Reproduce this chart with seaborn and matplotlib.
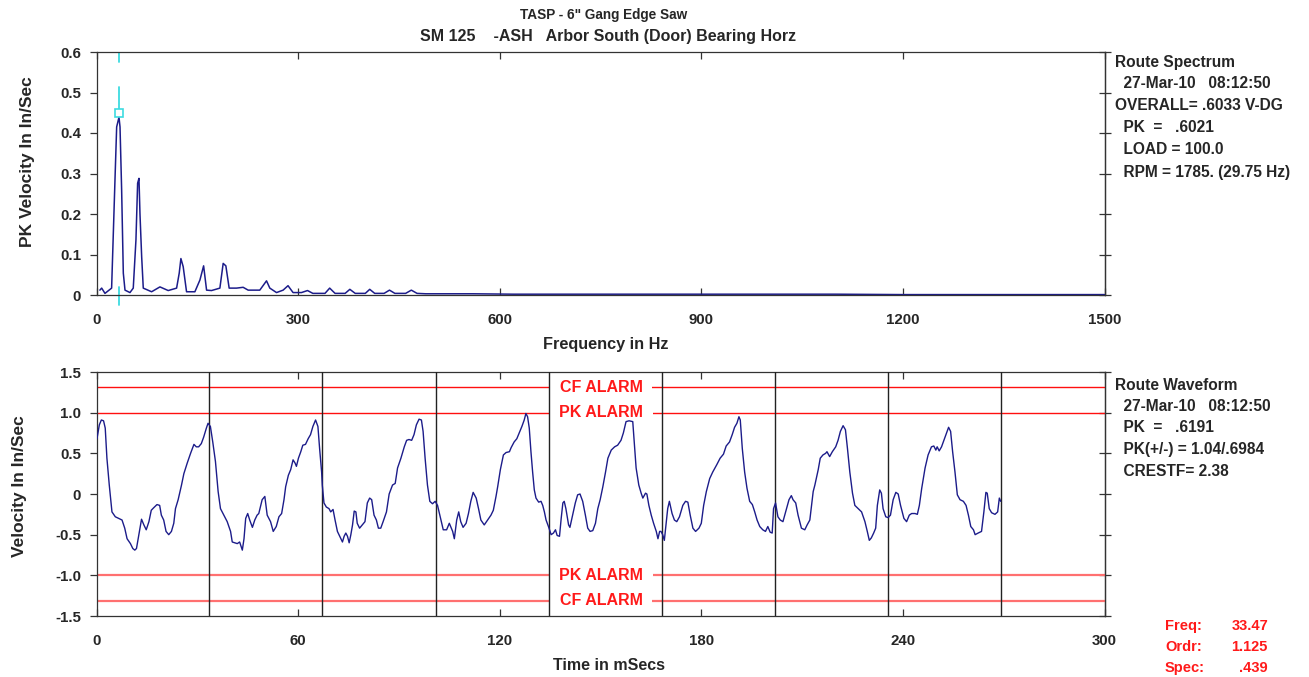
import numpy as np
import pandas as pd
import matplotlib
matplotlib.use("Agg")
import matplotlib.pyplot as plt
import seaborn as sns

# ---------------- data ----------------
spec_freq = [5, 7.7, 12.6, 22.5, 27.5, 30, 33.47, 35, 37.4, 39.9, 42.4, 49.8, 54.7, 58.7, 61.2, 63.2,
             64.7, 67.2, 69.6, 82, 94.4, 106.7, 119.2, 123.1, 125.6, 129, 134, 146.4, 153.9, 159.4,
             163.8, 171.2, 183.6, 188.5, 192.5, 197.4, 208.4, 218.2, 225.7, 243, 253, 257.9, 267.9,
             277.7, 285, 292.5, 305, 314, 322, 340, 347, 355, 370, 377, 385, 400, 406.6, 414, 428,
             436, 444, 460, 468.5, 477, 490, 510, 560, 620, 700, 800, 900, 1000, 1100, 1200, 1300,
             1400, 1500]
spec_amp = [0.012, 0.017, 0.004, 0.017, 0.284, 0.415, 0.439, 0.415, 0.26, 0.054, 0.012, 0.006, 0.017,
            0.136, 0.276, 0.288, 0.2, 0.095, 0.017, 0.008, 0.02, 0.011, 0.017, 0.054, 0.09, 0.07,
            0.008, 0.008, 0.037, 0.072, 0.012, 0.011, 0.017, 0.078, 0.072, 0.017, 0.017, 0.019,
            0.012, 0.012, 0.035, 0.017, 0.006, 0.012, 0.023, 0.006, 0.006, 0.011, 0.004, 0.004,
            0.017, 0.004, 0.004, 0.014, 0.004, 0.004, 0.014, 0.004, 0.004, 0.012, 0.004, 0.004,
            0.012, 0.004, 0.003, 0.003, 0.003, 0.002, 0.002, 0.002, 0.002, 0.002, 0.002, 0.001,
            0.001, 0.001, 0.001]

wave_t = [0.15, 0.84, 1.44, 2.1, 2.6, 3.1, 3.8, 4.6, 5.6, 6.6, 7.6, 8.4, 9.1, 10.1, 10.8, 11.4, 11.9,
          12.6, 13.4, 14.1, 14.8, 15.6, 16.3, 17.0, 18.0, 18.8, 19.3, 20.0, 20.7, 21.5, 22.3, 23.0,
          23.5, 24.3, 25.3, 26.0, 27.0, 28.0, 29.0, 29.7, 30.4, 31.2, 31.9, 32.7, 33.2, 33.9, 34.6,
          35.4, 36.2, 36.9, 37.9, 38.9, 39.9, 40.4, 41.2, 41.9, 42.6, 43.4, 43.9, 44.4, 45.0, 45.6,
          46.4, 47.1, 47.8, 48.3, 49.3, 50.1, 50.8, 51.8, 52.6,
          53.5, 54.3, 55.1, 55.8, 56.3, 57.1, 57.8, 58.5, 59.1, 59.5, 60.1, 60.8, 61.4, 62.2, 63.0,
          63.7, 64.4, 65.2, 65.9, 66.4, 67.0, 67.2, 67.7, 68.4, 69.2, 69.7, 70.4, 71.0, 71.7, 72.4,
          73.2, 73.7, 74.2, 74.7, 75.2, 75.7, 76.2, 76.7, 77.2, 77.6, 78.3, 79.1, 79.9, 80.6, 81.3,
          81.9, 82.6, 83.3, 83.9, 84.6, 85.3, 86.3, 87.1, 88.1, 88.9, 89.6, 90.6, 91.6, 92.3, 93.0,
          93.8, 94.5, 95.2, 96.0, 96.7, 97.2, 97.8, 98.5, 99.2, 100.0, 100.8, 101.5, 102.5, 103.2,
          104.2, 105.0, 106.0, 106.5,
          107.2, 107.8, 108.4, 109.1, 110.0, 110.7, 111.4, 112.1, 113.0, 113.7, 114.4, 115.4, 116.4,
          117.4, 118.1, 118.9, 119.4, 120.2, 121.1, 121.9, 122.9, 123.4, 124.3, 125.1, 125.8, 126.6,
          127.3, 127.8, 128.3, 128.8, 129.3, 129.8, 130.3, 130.8, 131.6, 132.3, 132.8, 133.3, 133.8,
          134.6, 135.3, 136.0, 136.6, 137.1, 137.8, 138.3, 138.8, 139.2, 139.7, 140.5, 140.9, 141.7,
          142.5, 143.2, 143.9, 144.7, 145.5, 146.2, 146.9, 147.7, 148.5, 149.2, 149.9, 150.7, 151.5,
          152.2, 153.2, 154.2, 155.1, 156.1, 156.8, 157.6, 158.5, 159.6,
          160.1, 160.6, 161.4, 162.1, 162.6, 163.4, 163.8, 164.4, 165.1, 165.8, 166.6, 167.1, 167.6,
          168.0, 168.5, 169.0, 169.5, 170.0, 170.5, 171.3, 172.0, 172.7, 173.5, 174.5, 175.3, 176.0,
          176.7, 177.5, 178.3, 179.3, 180.0, 180.7, 181.5, 182.5, 183.4, 184.6, 185.6, 186.6, 187.4,
          188.4, 189.2, 189.9, 190.6, 191.2, 191.6, 192.2, 192.9, 193.6, 194.4, 195.2, 195.9, 196.6,
          197.4, 198.3, 199.1, 199.8, 200.5, 201.1, 201.5, 202.1, 202.8, 203.5, 204.3, 205.1, 206.1,
          206.8, 207.3, 208.1, 208.8, 209.8, 210.8, 211.5, 212.3, 212.8, 213.3,
          213.8, 214.8, 215.4, 216.2, 217.0, 217.4, 218.2, 219.0, 220.0, 220.7, 221.4, 222.2, 222.9,
          223.5, 224.2, 225.0, 225.7, 226.7, 227.7, 228.7, 229.4, 230.0, 230.6, 231.3, 231.9, 232.4,
          233.1, 233.6, 234.1, 234.9, 235.6, 236.3, 237.1, 237.9, 238.6, 239.3, 240.3, 241.1, 241.9,
          242.6, 243.6, 244.3, 244.9, 245.6, 246.6, 247.5, 248.5, 249.2, 249.8, 250.2, 250.8, 251.5,
          252.2, 253.0, 253.6, 254.2, 254.8, 255.5, 256.2, 257.0, 258.0, 258.8, 259.5, 260.2, 261.0,
          261.5, 262.4, 263.4, 264.1, 264.7, 265.1, 265.7, 266.4, 267.4, 268.2, 268.7, 269.1]
wave_v = [0.68, 0.85, 0.91, 0.90, 0.81, 0.44, 0.11, -0.22, -0.28, -0.30, -0.32, -0.42, -0.55, -0.61,
          -0.67, -0.69, -0.67, -0.50, -0.31, -0.38, -0.44, -0.34, -0.20, -0.17, -0.13, -0.14, -0.26,
          -0.32, -0.46, -0.50, -0.46, -0.36, -0.18, -0.07, 0.11, 0.25, 0.38, 0.50, 0.61, 0.58, 0.58,
          0.62, 0.70, 0.81, 0.87, 0.83, 0.64, 0.40, 0.03, -0.18, -0.26, -0.34, -0.46, -0.59, -0.60,
          -0.61, -0.59, -0.69, -0.55, -0.30, -0.24, -0.32, -0.41, -0.32, -0.26, -0.24, -0.07, -0.03,
          -0.26, -0.34, -0.46,
          -0.40, -0.28, -0.24, -0.07, 0.09, 0.23, 0.30, 0.42, 0.38, 0.34, 0.44, 0.52, 0.60, 0.61,
          0.68, 0.73, 0.83, 0.91, 0.83, 0.56, 0.27, 0.11, -0.11, -0.16, -0.18, -0.22, -0.19, -0.32,
          -0.46, -0.52, -0.59, -0.52, -0.48, -0.52, -0.60, -0.50, -0.38, -0.21, -0.22, -0.36, -0.42,
          -0.38, -0.34, -0.11, -0.05, -0.07, -0.26, -0.32, -0.42, -0.42, -0.34, -0.22, 0.0, 0.11,
          0.13, 0.32, 0.44, 0.58, 0.66, 0.67, 0.66, 0.73, 0.85, 0.92, 0.91, 0.77, 0.44, 0.11, -0.09,
          -0.12, -0.09, -0.14, -0.32, -0.44, -0.44, -0.36, -0.46, -0.55,
          -0.32, -0.22, -0.34, -0.41, -0.36, -0.24, -0.09, 0.02, -0.05, -0.18, -0.32, -0.38, -0.32,
          -0.26, -0.20, -0.03, 0.09, 0.30, 0.48, 0.51, 0.52, 0.57, 0.64, 0.68, 0.75, 0.83, 0.91,
          0.99, 0.95, 0.81, 0.52, 0.27, 0.05, -0.05, -0.10, -0.09, -0.14, -0.22, -0.32, -0.41,
          -0.50, -0.48, -0.44, -0.51, -0.52, -0.30, -0.11, -0.09, -0.18, -0.38, -0.41, -0.26, -0.11,
          -0.01, 0.0, -0.09, -0.26, -0.42, -0.46, -0.45, -0.36, -0.18, -0.07, 0.09, 0.27, 0.44,
          0.54, 0.58, 0.60, 0.66, 0.75, 0.89, 0.90, 0.89,
          0.60, 0.32, 0.11, 0.01, -0.05, 0.01, 0.0, -0.14, -0.26, -0.36, -0.46, -0.55, -0.46, -0.46,
          -0.50, -0.57, -0.38, -0.18, -0.09, -0.24, -0.32, -0.34, -0.28, -0.14, -0.09, -0.10, -0.26,
          -0.42, -0.46, -0.42, -0.36, -0.14, 0.03, 0.19, 0.27, 0.36, 0.44, 0.49, 0.59, 0.64, 0.73,
          0.82, 0.87, 0.95, 0.91, 0.56, 0.27, 0.07, -0.09, -0.13, -0.22, -0.32, -0.40, -0.44, -0.46,
          -0.40, -0.47, -0.48, -0.18, -0.11, -0.28, -0.32, -0.34, -0.22, -0.07, -0.02, -0.07, -0.11,
          -0.26, -0.42, -0.44, -0.38, -0.32, -0.14, 0.03,
          0.11, 0.30, 0.44, 0.48, 0.50, 0.52, 0.46, 0.52, 0.58, 0.66, 0.77, 0.84, 0.79, 0.56, 0.27,
          0.01, -0.14, -0.18, -0.22, -0.34, -0.46, -0.57, -0.54, -0.48, -0.42, -0.14, 0.05, 0.01,
          -0.18, -0.28, -0.29, -0.26, -0.07, 0.02, 0.00, -0.14, -0.30, -0.34, -0.26, -0.24, -0.24,
          -0.25, -0.14, 0.07, 0.32, 0.48, 0.58, 0.59, 0.54, 0.58, 0.53, 0.58, 0.66, 0.75, 0.82,
          0.77, 0.52, 0.27, -0.01, -0.07, -0.09, -0.14, -0.26, -0.40, -0.44, -0.50, -0.48, -0.46,
          -0.22, 0.02, 0.01, -0.18, -0.23, -0.25, -0.22, -0.05, -0.09]

rev_marks_ms = [33.5, 67.2, 100.9, 134.6, 168.3, 202.0, 235.6, 269.3]
pk_alarm = 1.0
cf_alarm = 1.31
cursor_freq = 33.47
cursor_amp = 0.449

spec_xticks = [0, 300, 600, 900, 1200, 1500]
spec_yticks = [0, 0.1, 0.2, 0.3, 0.4, 0.5, 0.6]
spec_ylabels = ["0", "0.1", "0.2", "0.3", "0.4", "0.5", "0.6"]
wave_xticks = [0, 60, 120, 180, 240, 300]
wave_yticks = [-1.5, -1.0, -0.5, 0, 0.5, 1.0, 1.5]
wave_ylabels = ["-1.5", "-1.0", "-0.5", "0", "0.5", "1.0", "1.5"]

title_lines = ['TASP - 6" Gang Edge Saw', "SM 125    -ASH   Arbor South (Door) Bearing Horz"]
spec_info = ["Route Spectrum", "  27-Mar-10   08:12:50", "OVERALL= .6033 V-DG", "  PK  =   .6021",
             "  LOAD = 100.0", "  RPM = 1785. (29.75 Hz)"]
wave_info = ["Route Waveform", "  27-Mar-10   08:12:50", "  PK  =   .6191", "  PK(+/-) = 1.04/.6984",
             "  CRESTF= 2.38"]
cursor_labels = ["Freq:", "Ordr:", "Spec:"]
cursor_values = ["33.47", "1.125", ".439"]

# ---------------- style ----------------
sns.set_theme(style="white")
plt.rcParams["font.family"] = ["Liberation Sans", "DejaVu Sans"]
plt.rcParams["font.weight"] = "bold"
plt.rcParams["axes.linewidth"] = 0.9
plt.rcParams["axes.edgecolor"] = "#333333"

W, H = 1309, 677
fig = plt.figure(figsize=(W / 100, H / 100), dpi=100)
fig.patch.set_facecolor("white")

def fx(px):
    return px / W

def fy(py):
    return 1 - py / H

ax1 = fig.add_axes([fx(96.5), fy(295), fx(1104.5) - fx(96.5), fy(52) - fy(295)])
ax2 = fig.add_axes([fx(96.5), fy(616), fx(1104.5) - fx(96.5), fy(372) - fy(616)])

line_col = "#1c1c8a"
fs = 10.5

# spectrum
spec_df = pd.DataFrame({"freq": spec_freq, "amp": spec_amp})
sns.lineplot(data=spec_df, x="freq", y="amp", ax=ax1, color=line_col, lw=1.1,
             estimator=None, sort=False)
cy = "#3ddbe0"
ax1.plot([cursor_freq, cursor_freq], [0.575, 0.60], color=cy, lw=1.3)
ax1.plot([cursor_freq, cursor_freq], [0.457, 0.514], color=cy, lw=1.3)
ax1.plot([cursor_freq, cursor_freq], [-0.025, 0.02], color=cy, lw=1.3, clip_on=False)
ax1.plot([cursor_freq], [cursor_amp], marker="s", ms=6, mfc="white", mec=cy, mew=1.2)
ax1.set_xlim(0, 1500)
ax1.set_ylim(0, 0.6)
ax1.set_xticks(spec_xticks)
ax1.set_xticklabels([str(v) for v in spec_xticks])
ax1.set_yticks(spec_yticks)
ax1.set_yticklabels(spec_ylabels)
ax1.set_xlabel("Frequency in Hz", fontsize=11.7, fontweight="bold")
ax1.set_ylabel("PK Velocity In In/Sec", fontsize=12.5, fontweight="bold")
ax1.xaxis.set_label_coords(0.505, -0.172)
ax1.yaxis.set_label_coords(-0.061, 0.547)

# waveform
wave_df = pd.DataFrame({"t": wave_t, "v": wave_v})
for yv, col, lw in [(cf_alarm, "#ff1010", 1.0), (pk_alarm, "#ff1010", 1.0),
                    (-pk_alarm, "#ff7070", 1.6), (-cf_alarm, "#ff7070", 1.6)]:
    ax2.axhline(yv, color=col, lw=lw, zorder=1)
for yv, lab in [(cf_alarm, "CF ALARM"), (pk_alarm, "PK ALARM"),
                (-pk_alarm, "PK ALARM"), (-cf_alarm, "CF ALARM")]:
    ax2.text(150.2, yv, "  " + lab + "  ", color="#ff1a1a", fontsize=11.5, fontweight="bold",
             ha="center", va="center", zorder=2,
             bbox=dict(facecolor="white", edgecolor="none", pad=0.3))
for m in rev_marks_ms:
    ax2.axvline(m, color="#222222", lw=1.0, zorder=3)
sns.lineplot(data=wave_df, x="t", y="v", ax=ax2, color=line_col, lw=1.0,
             estimator=None, sort=False, zorder=5)
ax2.set_xlim(0, 300)
ax2.set_ylim(-1.5, 1.5)
ax2.set_xticks(wave_xticks)
ax2.set_xticklabels([str(v) for v in wave_xticks])
ax2.set_yticks(wave_yticks)
ax2.set_yticklabels(wave_ylabels)
ax2.set_xlabel("Time in mSecs", fontsize=11.5, fontweight="bold")
ax2.set_ylabel("Velocity In In/Sec", fontsize=12.5, fontweight="bold")
ax2.xaxis.set_label_coords(0.508, -0.172)
ax2.yaxis.set_label_coords(-0.069, 0.533)

for ax in (ax1, ax2):
    for s in ax.spines.values():
        s.set_visible(True)
        s.set_color("#333333")
    ax.tick_params(axis="x", which="both", direction="in", top=True, bottom=True,
                   length=5, width=0.9, pad=13, labelsize=fs + 0.3, color="#333333")
    ax.tick_params(axis="y", which="both", direction="out", left=True, right=False,
                   length=5, width=0.9, pad=6, labelsize=fs + 0.3, color="#333333")
    for lbl in ax.get_xticklabels() + ax.get_yticklabels():
        lbl.set_fontweight("bold")
    sec = ax.secondary_yaxis("right")
    sec.set_yticks(ax.get_yticks())
    sec.tick_params(direction="inout", length=9, width=0.9, labelright=False, color="#333333")
    sec.spines["right"].set_color("#333333")
    ax.grid(False)

# titles
fig.text(fx(604), fy(15), title_lines[0], ha="center", va="center", fontsize=9.8, fontweight="bold")
fig.text(fx(608), fy(37), title_lines[1], ha="center", va="center", fontsize=11.5, fontweight="bold")

# info blocks
info_fs = 11.2
for i, s in enumerate(spec_info):
    fig.text(fx(1115), fy(62 + i * 22), s, ha="left", va="center", fontsize=info_fs, fontweight="bold")
for i, s in enumerate(wave_info):
    fig.text(fx(1115), fy(385 + i * 21.5), s, ha="left", va="center", fontsize=info_fs, fontweight="bold")
for i, (a, b) in enumerate(zip(cursor_labels, cursor_values)):
    fig.text(fx(1165), fy(626 + i * 21), a, ha="left", va="center", fontsize=fs,
             fontweight="bold", color="#ff1a1a")
    fig.text(fx(1268), fy(626 + i * 21), b, ha="right", va="center", fontsize=fs,
             fontweight="bold", color="#ff1a1a")

fig.savefig("out.png", dpi=100)
